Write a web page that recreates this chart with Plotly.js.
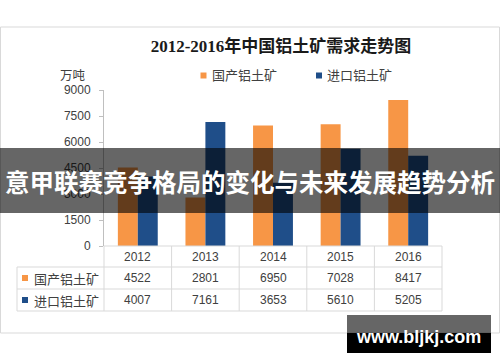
<!DOCTYPE html>
<html>
<head>
<meta charset="utf-8">
<script src="https://cdn.plot.ly/plotly-3.0.1.min.js"></script>
<style>html,body{margin:0;padding:0;background:#fff;}#chart{width:500px;height:362px;}</style>
</head>
<body>
<div id="chart"></div>
<script>
// ---- data ----
const categories = ['2012', '2013', '2014', '2015', '2016'];
const seriesNames = ['国产铝土矿', '进口铝土矿'];
const domestic = [4522, 2801, 6950, 7028, 8417];
const imported = [4007, 7161, 3653, 5610, 5205];
const yTicks = [0, 1500, 3000, 4500, 6000, 7500, 9000];
const chartTitle = '2012-2016年中国铝土矿需求走势图';
const unitLabel = '万吨';
const bannerText = '意甲联赛竞争格局的变化与未来发展趋势分析';
const watermarkText = 'www.bljkj.com';

// ---- layout helpers (pixel -> paper) ----
const W = 500, H = 362;
const L = 104, R = 442, T = 90, B = 246;
const px = x => (x - L) / (R - L);
const py = y => (B - y) / (B - T);
const colors = ['#F79646', '#1F4E89'];
const CJK = '"Noto Sans CJK SC", "Noto Sans", sans-serif';
const NUM = '"Liberation Sans", Arial, sans-serif';
const gridCol = '#d9d9d9';

const traces = [
  {type: 'bar', name: seriesNames[0], x: categories, y: domestic,
   marker: {color: colors[0]}, showlegend: false},
  {type: 'bar', name: seriesNames[1], x: categories, y: imported,
   marker: {color: colors[1]}, showlegend: false}
];

const shapes = [];
const annotations = [];

// outer frame
shapes.push({type: 'rect', xref: 'paper', yref: 'paper', x0: px(0.5), x1: px(499.5), y0: py(333), y1: py(27),
  line: {color: gridCol, width: 1}, layer: 'below'});

// table grid
const colEdges = [104, 171.6, 239.2, 306.8, 374.4, 442];
shapes.push({type: 'line', xref: 'paper', yref: 'paper', x0: px(104), x1: px(442), y0: py(246), y1: py(246), line: {color: gridCol, width: 1}});
[267, 289, 311].forEach(yy => shapes.push({type: 'line', xref: 'paper', yref: 'paper', x0: px(17), x1: px(442), y0: py(yy), y1: py(yy), line: {color: gridCol, width: 1}}));
colEdges.forEach(xx => shapes.push({type: 'line', xref: 'paper', yref: 'paper', x0: px(xx), x1: px(xx), y0: py(246), y1: py(311), line: {color: gridCol, width: 1}}));
shapes.push({type: 'line', xref: 'paper', yref: 'paper', x0: px(17), x1: px(17), y0: py(267), y1: py(311), line: {color: gridCol, width: 1}});

// table text (placed on the category axis by index)
const rowCenters = [256.5, 278, 300];
categories.forEach((c, i) => {
  [[c, rowCenters[0]], [String(domestic[i]), rowCenters[1]], [String(imported[i]), rowCenters[2]]].forEach(([t, yc]) => {
    annotations.push({xref: 'x', yref: 'paper', x: i, y: py(yc), text: t, showarrow: false,
      font: {family: NUM, size: 12, color: '#404040'}, xanchor: 'center', yanchor: 'middle'});
  });
});
// table row labels with keys
seriesNames.forEach((n, k) => {
  const yc = rowCenters[k + 1];
  shapes.push({type: 'rect', xref: 'paper', yref: 'paper', x0: px(22), x1: px(28), y0: py(yc + 3), y1: py(yc - 3),
    fillcolor: colors[k], line: {width: 0}});
  annotations.push({xref: 'paper', yref: 'paper', x: px(32), y: py(yc), text: n, showarrow: false,
    font: {family: CJK, size: 13, color: '#404040'}, xanchor: 'left', yanchor: 'middle'});
});

// top legend
const legendX = [[200.5, 210], [316, 325]];
seriesNames.forEach((n, k) => {
  shapes.push({type: 'rect', xref: 'paper', yref: 'paper', x0: px(legendX[k][0]), x1: px(legendX[k][0] + 6), y0: py(78.5), y1: py(72.5),
    fillcolor: colors[k], line: {width: 0}});
  annotations.push({xref: 'paper', yref: 'paper', x: px(legendX[k][1]), y: py(74.5), text: n, showarrow: false,
    font: {family: CJK, size: 13, color: '#404040'}, xanchor: 'left', yanchor: 'middle'});
});

// unit label
annotations.push({xref: 'paper', yref: 'paper', x: px(88), y: py(74.5), text: unitLabel, showarrow: false,
  font: {family: CJK, size: 12.5, color: '#404040'}, xanchor: 'right', yanchor: 'middle'});

// banner overlay
shapes.push({type: 'rect', xref: 'paper', yref: 'paper', x0: px(-2), x1: px(502), y0: py(213), y1: py(148),
  fillcolor: 'rgba(0,0,0,0.6)', line: {width: 0}, layer: 'above'});
annotations.push({xref: 'paper', yref: 'paper', x: px(250), y: py(181), text: '<b>' + bannerText + '</b>', showarrow: false,
  font: {family: CJK, size: 24.5, color: '#ffffff'}, xanchor: 'center', yanchor: 'middle'});

// watermark box
shapes.push({type: 'rect', xref: 'paper', yref: 'paper', x0: px(347), x1: px(491), y0: py(333), y1: py(315),
  fillcolor: 'rgba(0,0,0,0.6)', line: {width: 0}, layer: 'above'});
shapes.push({type: 'rect', xref: 'paper', yref: 'paper', x0: px(347), x1: px(491), y0: py(353), y1: py(333),
  fillcolor: '#000000', line: {width: 0}, layer: 'above'});
annotations.push({xref: 'paper', yref: 'paper', x: px(418), y: py(337), text: '<b>' + watermarkText + '</b>', showarrow: false,
  font: {family: NUM, size: 18, color: '#ffffff'}, xanchor: 'center', yanchor: 'middle'});

const layout = {
  width: W, height: H,
  margin: {l: L, r: W - R, t: T, b: H - B, pad: 0},
  paper_bgcolor: '#ffffff', plot_bgcolor: '#ffffff',
  title: {text: '<b>' + chartTitle + '</b>', x: 281 / W, xanchor: 'center', xref: 'container',
    y: 1 - 46 / H, yanchor: 'middle', yref: 'container',
    font: {family: '"Liberation Serif", "Noto Sans CJK SC", serif', size: 17, color: '#1a1a1a'}},
  barmode: 'group', bargap: 0.41, bargroupgap: 0,
  xaxis: {type: 'category', categoryorder: 'array', categoryarray: categories, range: [-0.5, categories.length - 0.5],
    showticklabels: false, showline: false, showgrid: false, zeroline: false, ticks: ''},
  yaxis: {range: [0, 9000], tickvals: yTicks, ticktext: yTicks.map(String), showgrid: false, zeroline: false,
    showline: true, linecolor: '#bfbfbf', linewidth: 1, ticks: 'outside', ticklen: 4, tickcolor: '#bfbfbf',
    tickfont: {family: NUM, size: 12, color: '#404040'}, ticklabelstandoff: 6},
  shapes: shapes,
  annotations: annotations
};

Plotly.newPlot('chart', traces, layout, {displayModeBar: false});
</script>
</body>
</html>
